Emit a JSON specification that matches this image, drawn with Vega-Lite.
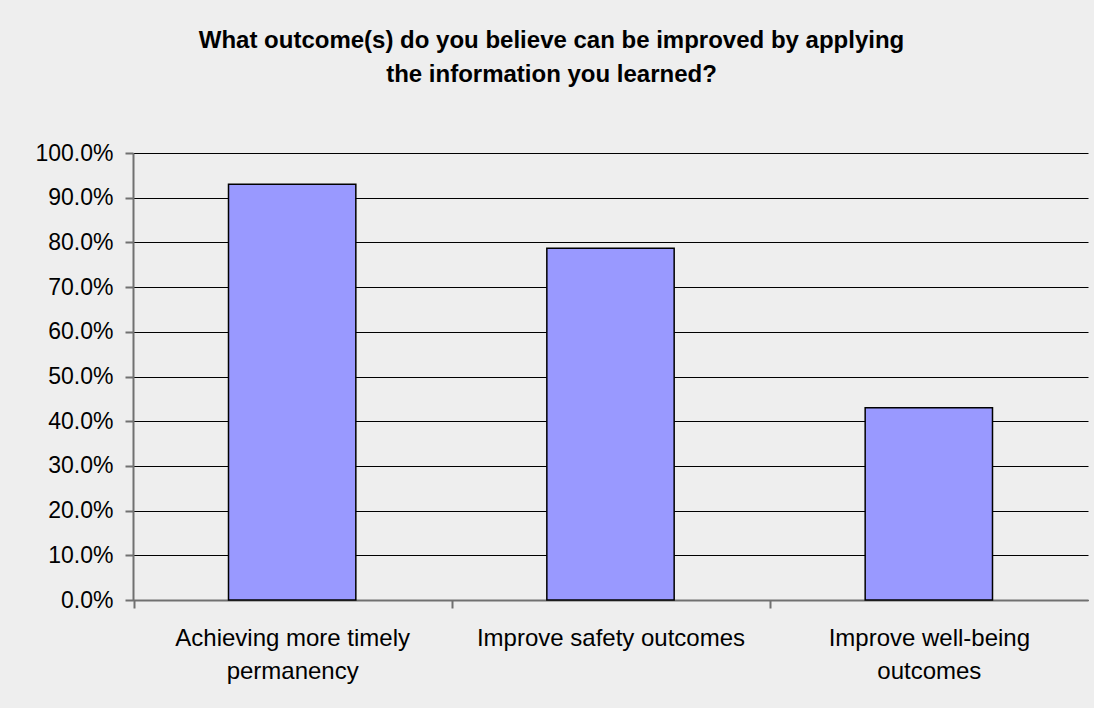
{
  "$schema": "https://vega.github.io/schema/vega-lite/v6.json",
  "width": 955,
  "height": 447,
  "autosize": {"type": "none"},
  "padding": {"left": 133, "top": 153, "right": 6, "bottom": 108},
  "background": "#EEEEEE",
  "title": {
    "text": ["What outcome(s) do you believe can be improved by applying", "the information you learned?"],
    "font": "Liberation Sans",
    "fontSize": 24,
    "fontWeight": "bold",
    "lineHeight": 34,
    "color": "#000000",
    "anchor": "middle",
    "dx": -59,
    "offset": 55
  },
  "data": {
    "values": [
      {"outcome": "Achieving more timely permanency", "pct": 0.93},
      {"outcome": "Improve safety outcomes", "pct": 0.787},
      {"outcome": "Improve well-being outcomes", "pct": 0.43}
    ]
  },
  "mark": {"type": "bar", "color": "#9999FF", "stroke": "#000000", "strokeWidth": 1.5},
  "encoding": {
    "x": {
      "field": "outcome",
      "type": "nominal",
      "sort": null,
      "scale": {"paddingInner": 0.6, "paddingOuter": 0.3},
      "axis": {
        "title": null,
        "labelAngle": 0,
        "labelFont": "Liberation Sans",
        "labelFontSize": 24,
        "labelColor": "#000000",
        "labelPadding": 18,
        "labelLineHeight": 33,
        "labelBaseline": "top",
        "labelLimit": 0,
        "labelExpr": "datum.value == 'Achieving more timely permanency' ? ['Achieving more timely', 'permanency'] : datum.value == 'Improve well-being outcomes' ? ['Improve well-being', 'outcomes'] : datum.value",
        "bandPosition": 0,
        "tickOffset": -95,
        "labelOffset": 95,
        "tickSize": 8,
        "tickColor": "#707070",
        "tickWidth": 2,
        "domainColor": "#707070",
        "domainWidth": 2,
        "grid": false
      }
    },
    "y": {
      "field": "pct",
      "type": "quantitative",
      "scale": {"domain": [0, 1]},
      "axis": {
        "title": null,
        "format": ".1%",
        "values": [0, 0.1, 0.2, 0.3, 0.4, 0.5, 0.6, 0.7, 0.8, 0.9, 1.0],
        "labelOverlap": false,
        "labelFont": "Liberation Sans",
        "labelFontSize": 23,
        "labelColor": "#000000",
        "labelPadding": 12,
        "tickSize": 8,
        "tickColor": "#707070",
        "tickWidth": 2,
        "domainColor": "#707070",
        "domainWidth": 2,
        "grid": true,
        "gridColor": "#000000",
        "gridWidth": 1,
        "gridOpacity": 1
      }
    }
  },
  "config": {
    "view": {"stroke": null, "fill": "#EEEEEE"}
  }
}
